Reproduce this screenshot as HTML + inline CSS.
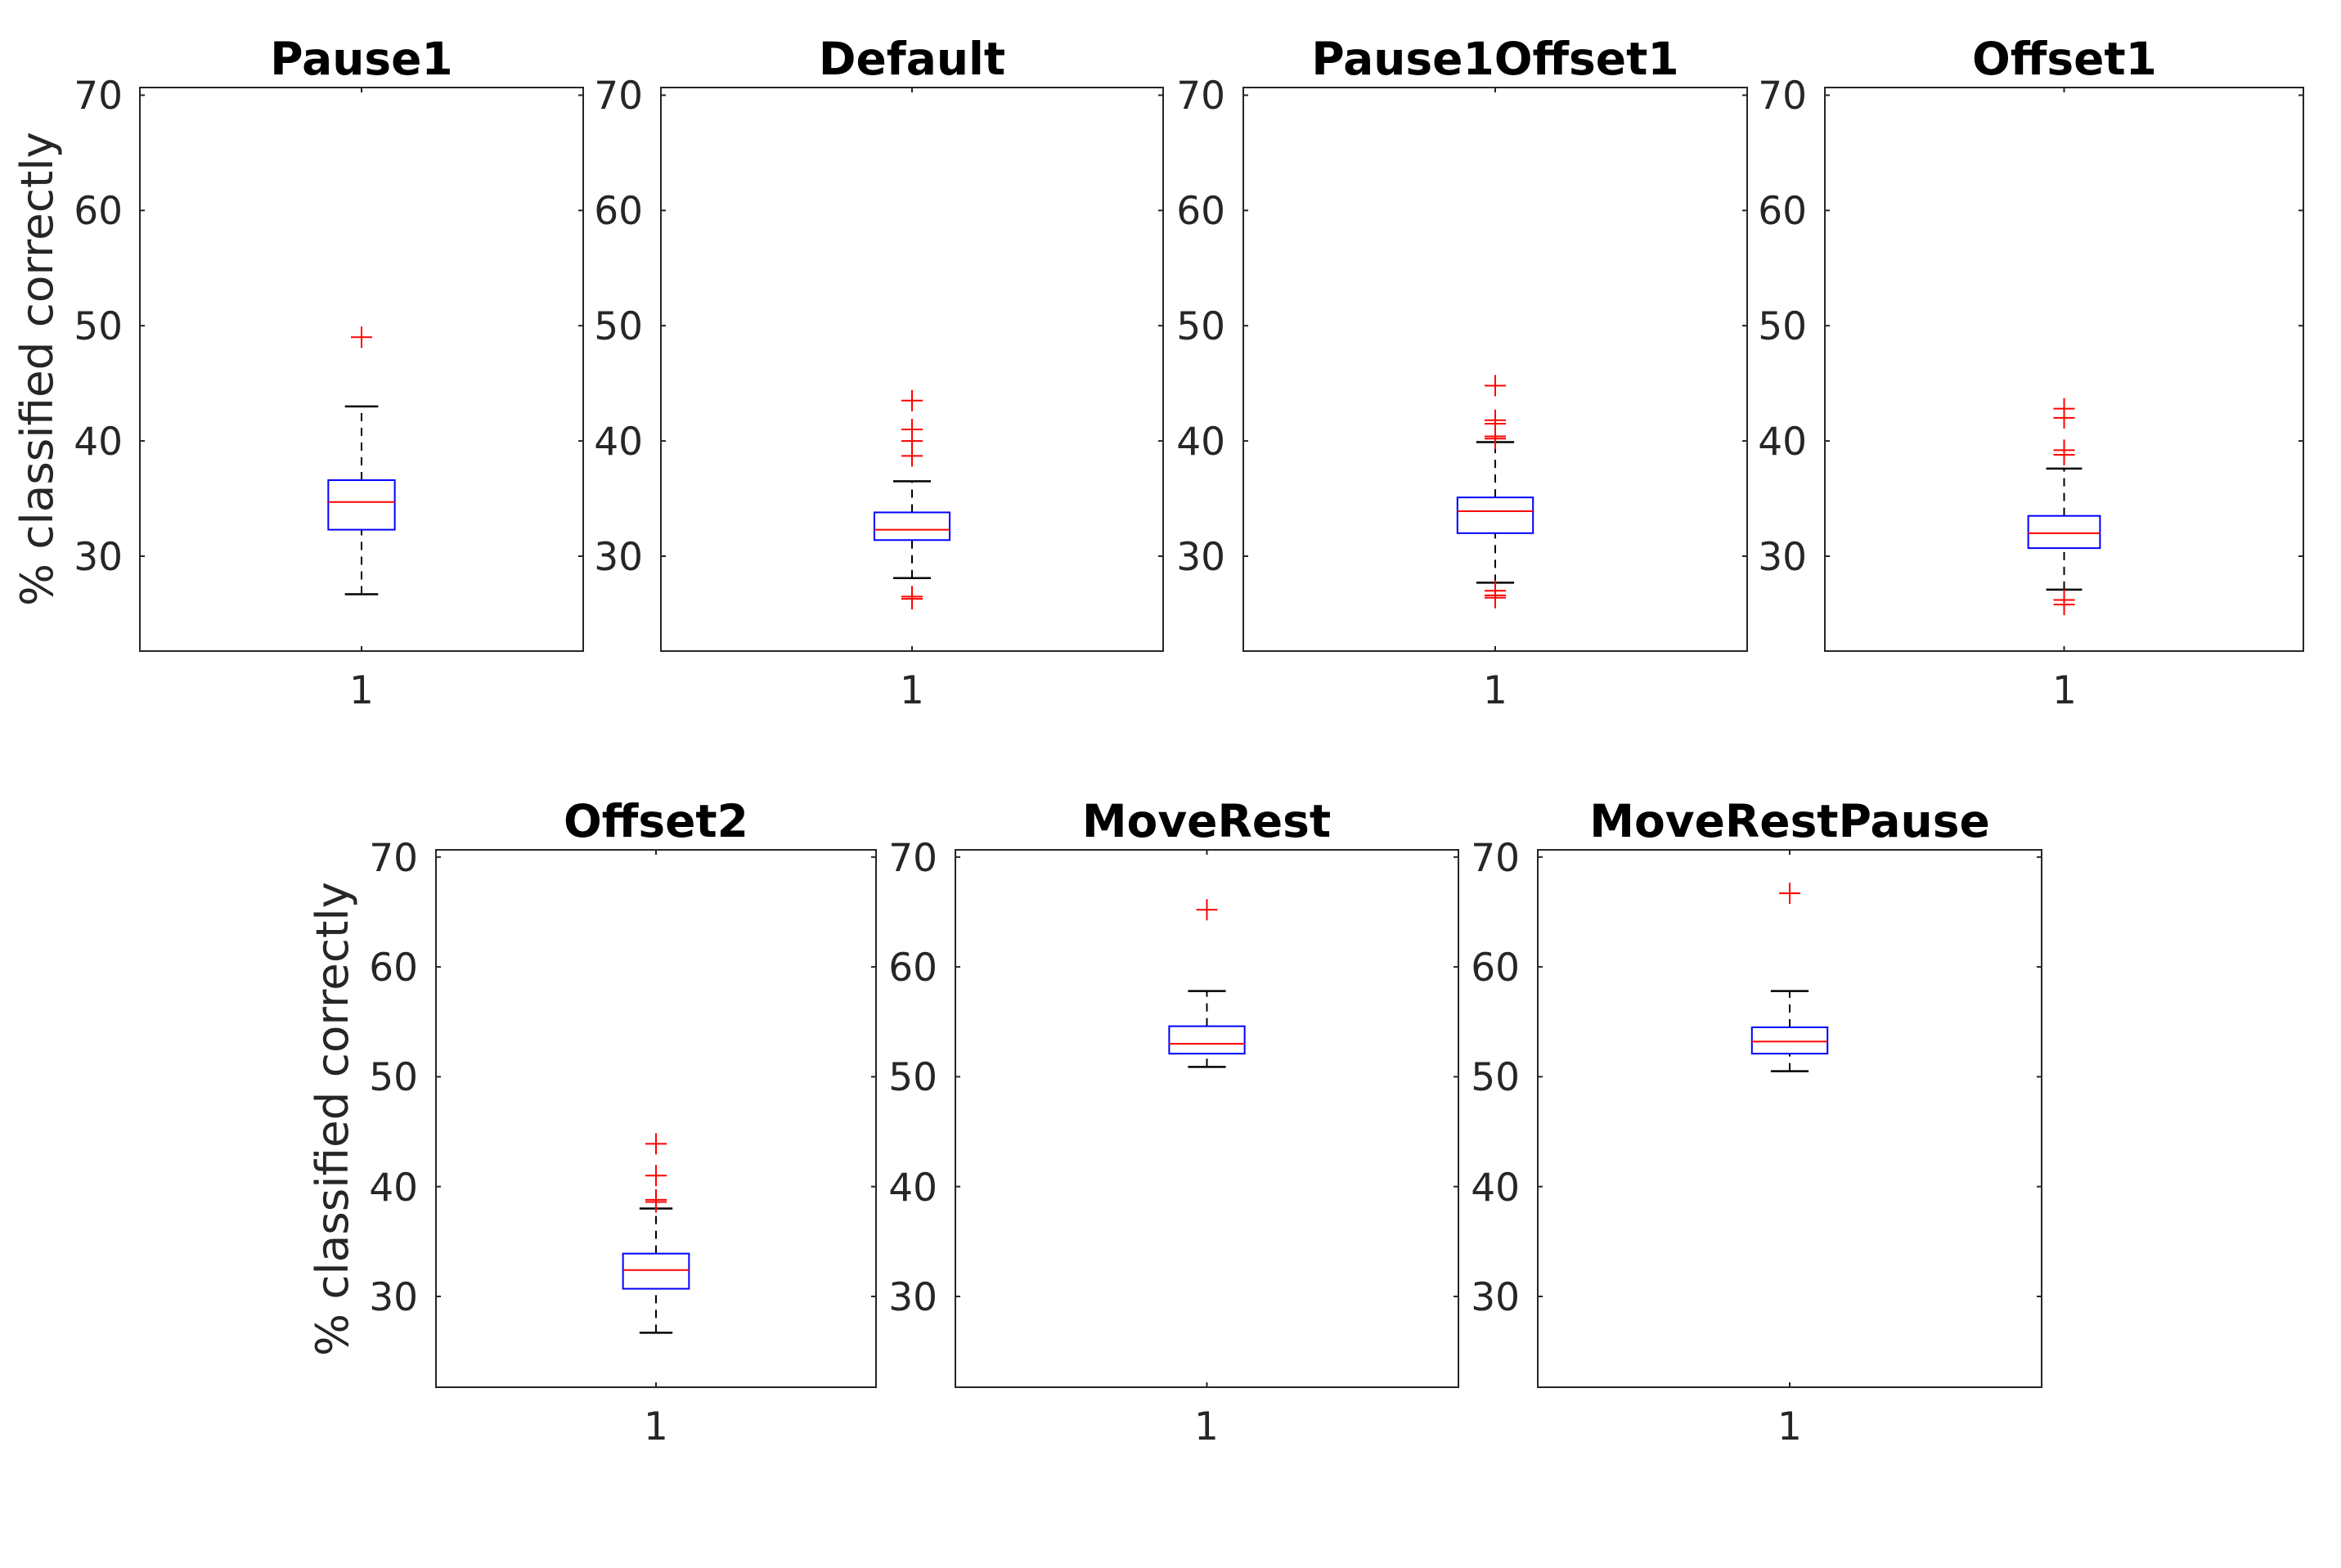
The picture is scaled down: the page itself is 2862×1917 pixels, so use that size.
<!DOCTYPE html>
<html><head><meta charset="utf-8"><style>
html,body{margin:0;padding:0;background:#fff;}
svg{display:block;}
text{font-family:"DejaVu Sans","Liberation Sans",sans-serif;fill:#262626;}
.t{font-weight:bold;font-size:55px;fill:#000;text-anchor:middle;}
.y{font-size:47px;text-anchor:end;}
.x{font-size:47px;text-anchor:middle;}
.yl{font-size:54px;text-anchor:middle;}
</style></head><body>
<svg id="s" width="2862" height="1917" viewBox="0 0 2862 1917" xmlns="http://www.w3.org/2000/svg">
<rect width="2862" height="1917" fill="#fff"/>
<g id="g"></g>
<text class="t" x="442" y="91">Pause1</text>
<text class="t" x="1115" y="91">Default</text>
<text class="t" x="1828" y="91">Pause1Offset1</text>
<text class="t" x="2524" y="91">Offset1</text>
<text class="t" x="802" y="1023">Offset2</text>
<text class="t" x="1475" y="1023">MoveRest</text>
<text class="t" x="2188" y="1023">MoveRestPause</text>
<text class="yl" textLength="580" lengthAdjust="spacingAndGlyphs" transform="translate(64,451) rotate(-90)">% classified correctly</text>
<text class="yl" textLength="580" lengthAdjust="spacingAndGlyphs" transform="translate(425,1368) rotate(-90)">% classified correctly</text>
<text class="y" x="150" y="133">70</text><text class="y" x="150" y="274">60</text><text class="y" x="150" y="415">50</text><text class="y" x="150" y="556">40</text><text class="y" x="150" y="697">30</text>
<text class="y" x="786" y="133">70</text><text class="y" x="786" y="274">60</text><text class="y" x="786" y="415">50</text><text class="y" x="786" y="556">40</text><text class="y" x="786" y="697">30</text>
<text class="y" x="1498" y="133">70</text><text class="y" x="1498" y="274">60</text><text class="y" x="1498" y="415">50</text><text class="y" x="1498" y="556">40</text><text class="y" x="1498" y="697">30</text>
<text class="y" x="2209" y="133">70</text><text class="y" x="2209" y="274">60</text><text class="y" x="2209" y="415">50</text><text class="y" x="2209" y="556">40</text><text class="y" x="2209" y="697">30</text>
<text class="y" x="511" y="1065">70</text><text class="y" x="511" y="1199">60</text><text class="y" x="511" y="1333">50</text><text class="y" x="511" y="1468">40</text><text class="y" x="511" y="1602">30</text>
<text class="y" x="1146" y="1065">70</text><text class="y" x="1146" y="1199">60</text><text class="y" x="1146" y="1333">50</text><text class="y" x="1146" y="1468">40</text><text class="y" x="1146" y="1602">30</text>
<text class="y" x="1858" y="1065">70</text><text class="y" x="1858" y="1199">60</text><text class="y" x="1858" y="1333">50</text><text class="y" x="1858" y="1468">40</text><text class="y" x="1858" y="1602">30</text>
<text class="x" x="442" y="860">1</text>
<text class="x" x="1115" y="860">1</text>
<text class="x" x="1828" y="860">1</text>
<text class="x" x="2524" y="860">1</text>
<text class="x" x="802" y="1760">1</text>
<text class="x" x="1475" y="1760">1</text>
<text class="x" x="2188" y="1760">1</text>
</svg>
<script>
var P=[
 {x0:171,x1:713,r:0,w:[26.7,43],b:[32.3,36.6],m:34.7,o:[49]},
 {x0:808,x1:1422,r:0,w:[28.1,36.5],b:[31.4,33.8],m:32.3,o:[43.5,41,40,38.7,26.3,26.5]},
 {x0:1520,x1:2136,r:0,w:[27.7,39.9],b:[32,35.1],m:33.9,o:[44.8,41.8,41.5,40.4,40.2,27,26.6,26.4]},
 {x0:2231,x1:2816,r:0,w:[27.1,37.6],b:[30.7,33.5],m:32,o:[42.8,42,39.2,38.8,26.2,25.8]},
 {x0:533,x1:1071,r:1,w:[26.7,38],b:[30.7,33.9],m:32.4,o:[43.9,41,38.8,38.6]},
 {x0:1168,x1:1783,r:1,w:[50.9,57.8],b:[52.1,54.6],m:53,o:[65.2]},
 {x0:1880,x1:2496,r:1,w:[50.5,57.8],b:[52.1,54.5],m:53.2,o:[66.7]}];
var R=[{y30:680,k:14.09,top:107,bot:796},{y30:1585,k:13.43,top:1039,bot:1696}];
var s='';
function L(a,b,c,d,col,w,extra){s+='<line x1="'+a+'" y1="'+b+'" x2="'+c+'" y2="'+d+'" stroke="'+col+'" stroke-width="'+w+'" '+(extra||'')+'/>';}
P.forEach(function(p){
 var r=R[p.r],Y=function(v){return r.y30-(v-30)*r.k;};
 var W=p.x1-p.x0,cx=(p.x0+p.x1)/2,bw=W*0.15,cw=bw/2;
 s+='<rect x="'+p.x0+'" y="'+r.top+'" width="'+W+'" height="'+(r.bot-r.top)+'" fill="none" stroke="#262626" stroke-width="2"/>';
 for(var v=30;v<=70;v+=10){L(p.x0,Y(v),p.x0+6,Y(v),'#262626',2);L(p.x1,Y(v),p.x1-6,Y(v),'#262626',2);}
 L(cx,r.top,cx,r.top+6,'#262626',2);L(cx,r.bot,cx,r.bot-6,'#262626',2);
 L(cx,Y(p.w[0]),cx,Y(p.b[0]),'#000',2,'stroke-dasharray="10,8"');
 L(cx,Y(p.b[1]),cx,Y(p.w[1]),'#000',2,'stroke-dasharray="10,8"');
 L(cx-cw/2,Y(p.w[0]),cx+cw/2,Y(p.w[0]),'#000',2.5);
 L(cx-cw/2,Y(p.w[1]),cx+cw/2,Y(p.w[1]),'#000',2.5);
 s+='<rect x="'+(cx-bw/2)+'" y="'+Y(p.b[1])+'" width="'+bw+'" height="'+(Y(p.b[0])-Y(p.b[1]))+'" fill="none" stroke="#00f" stroke-width="2"/>';
 L(cx-bw/2,Y(p.m),cx+bw/2,Y(p.m),'#f00',2);
 p.o.forEach(function(v){var y=Y(v);L(cx-13,y,cx+13,y,'#f00',2);L(cx,y-13,cx,y+13,'#f00',2);});
});
document.getElementById('g').innerHTML=s;
</script>
</body></html>
